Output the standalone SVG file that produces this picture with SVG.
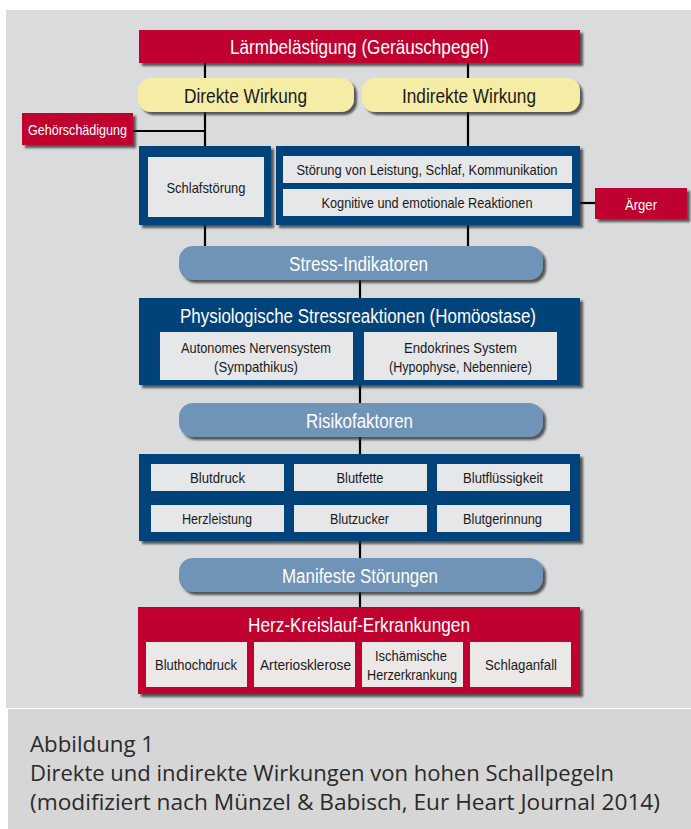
<svg xmlns="http://www.w3.org/2000/svg" width="691" height="829" viewBox="0 0 691 829">
<defs>
<filter id="sh" x="-10%" y="-20%" width="130%" height="160%">
<feDropShadow dx="3" dy="3" stdDeviation="1.3" flood-color="#2a2a2a" flood-opacity="0.75"/>
</filter>
<style>
.red{fill:#c0002e}
.navy{fill:#00437a}
.yel{fill:#f5eda6}
.steel{fill:#7093b8}
.inner{fill:#e6e7e9}
.inner2{fill:#ece8e8}
.ln{stroke:#000;stroke-width:2.2;fill:none}
text{font-family:"Liberation Sans",Arial,sans-serif;text-anchor:middle}
.w{fill:#fff}
.k{fill:#1a1a1a}
.big{font-size:20px}
.med{font-size:19.5px}
.sm{font-size:14.5px}
.cap{font-family:"Open Sans","Lato","Noto Sans",sans-serif;font-size:21px;fill:#2a2a2a;text-anchor:start}
</style>
</defs>
<rect x="0" y="0" width="691" height="829" fill="#ffffff"/>
<rect x="6" y="10" width="685" height="698" fill="#dadbdd"/>
<rect x="8" y="709" width="683" height="120" fill="#d6d6d6"/>

<g id="connectors">
<line class="ln" x1="205" y1="60" x2="205" y2="150"/>
<line class="ln" x1="468" y1="60" x2="468" y2="150"/>
<line class="ln" x1="130" y1="131" x2="205" y2="131"/>
<line class="ln" x1="578" y1="203" x2="600" y2="203"/>
<line class="ln" x1="205" y1="222" x2="205" y2="250"/>
<line class="ln" x1="468" y1="222" x2="468" y2="250"/>
<line class="ln" x1="360" y1="278" x2="360" y2="300"/>
<line class="ln" x1="360" y1="383" x2="360" y2="406"/>
<line class="ln" x1="360" y1="435" x2="360" y2="456"/>
<line class="ln" x1="360" y1="539" x2="360" y2="560"/>
<line class="ln" x1="360" y1="590" x2="360" y2="609"/>
</g>

<g id="laerm">
<rect class="red" x="139" y="30" width="441" height="33" filter="url(#sh)"/>
<text class="w big" x="359.5" y="53.5" textLength="259" lengthAdjust="spacingAndGlyphs">Lärmbelästigung (Geräuschpegel)</text>
</g>

<g id="direkt">
<rect class="yel" x="138" y="78" width="216" height="34" rx="13" filter="url(#sh)"/>
<text class="k med" x="245.5" y="102.5" textLength="123" lengthAdjust="spacingAndGlyphs">Direkte Wirkung</text>
</g>

<g id="indirekt">
<rect class="yel" x="362" y="78" width="218" height="34" rx="13" filter="url(#sh)"/>
<text class="k med" x="469" y="102.5" textLength="134" lengthAdjust="spacingAndGlyphs">Indirekte Wirkung</text>
</g>

<g id="gehoer">
<rect class="red" x="22" y="113" width="111" height="32" filter="url(#sh)"/>
<text class="w sm" x="77.5" y="134.5" textLength="99" lengthAdjust="spacingAndGlyphs">Gehörschädigung</text>
</g>

<g id="schlaf">
<rect class="navy" x="139" y="146" width="132" height="79" filter="url(#sh)"/>
<rect class="inner" x="148" y="157" width="116" height="60"/>
<text class="k sm" x="206" y="192.5" textLength="79" lengthAdjust="spacingAndGlyphs">Schlafstörung</text>
</g>

<g id="indirektbox">
<rect class="navy" x="276" y="146" width="304" height="79" filter="url(#sh)"/>
<rect class="inner" x="283" y="156" width="289" height="27"/>
<text class="k sm" x="427" y="175" textLength="261" lengthAdjust="spacingAndGlyphs">Störung von Leistung, Schlaf, Kommunikation</text>
<rect class="inner" x="283" y="189" width="289" height="27"/>
<text class="k sm" x="427" y="208" textLength="211" lengthAdjust="spacingAndGlyphs">Kognitive und emotionale Reaktionen</text>
</g>

<g id="aerger">
<rect class="red" x="595" y="188" width="92" height="31" filter="url(#sh)"/>
<text class="w sm" x="641" y="209.5" textLength="32" lengthAdjust="spacingAndGlyphs">Ärger</text>
</g>

<g id="stress">
<rect class="steel" x="179" y="246" width="364" height="34" rx="14" filter="url(#sh)"/>
<text class="w med" x="358.5" y="270.5" textLength="139" lengthAdjust="spacingAndGlyphs">Stress-Indikatoren</text>
</g>

<g id="physio">
<rect class="navy" x="139" y="298" width="441" height="87" filter="url(#sh)"/>
<text class="w med" x="358" y="323" textLength="356" lengthAdjust="spacingAndGlyphs">Physiologische Stressreaktionen (Homöostase)</text>
<rect class="inner" x="160" y="332" width="193" height="48"/>
<text class="k sm" x="256" y="352.5" textLength="150" lengthAdjust="spacingAndGlyphs">Autonomes Nervensystem</text>
<text class="k sm" x="256" y="371.5" textLength="84" lengthAdjust="spacingAndGlyphs">(Sympathikus)</text>
<rect class="inner" x="364" y="332" width="193" height="48"/>
<text class="k sm" x="460.5" y="352.5" textLength="113" lengthAdjust="spacingAndGlyphs">Endokrines System</text>
<text class="k sm" x="460.5" y="371.5" textLength="143" lengthAdjust="spacingAndGlyphs">(Hypophyse, Nebenniere)</text>
</g>

<g id="risiko">
<rect class="steel" x="179" y="403" width="364" height="34" rx="14" filter="url(#sh)"/>
<text class="w med" x="359.5" y="427.5" textLength="107" lengthAdjust="spacingAndGlyphs">Risikofaktoren</text>
</g>

<g id="faktoren">
<rect class="navy" x="139" y="454" width="441" height="87" filter="url(#sh)"/>
<rect class="inner" x="151" y="464" width="133" height="27"/>
<text class="k sm" x="217.5" y="483" textLength="55" lengthAdjust="spacingAndGlyphs">Blutdruck</text>
<rect class="inner" x="294" y="464" width="133" height="27"/>
<text class="k sm" x="360" y="483" textLength="47" lengthAdjust="spacingAndGlyphs">Blutfette</text>
<rect class="inner" x="437" y="464" width="133" height="27"/>
<text class="k sm" x="503" y="483" textLength="80" lengthAdjust="spacingAndGlyphs">Blutflüssigkeit</text>
<rect class="inner" x="151" y="505" width="133" height="27"/>
<text class="k sm" x="217" y="524" textLength="70" lengthAdjust="spacingAndGlyphs">Herzleistung</text>
<rect class="inner" x="294" y="505" width="133" height="27"/>
<text class="k sm" x="359.5" y="524" textLength="59" lengthAdjust="spacingAndGlyphs">Blutzucker</text>
<rect class="inner" x="437" y="505" width="133" height="27"/>
<text class="k sm" x="502.5" y="524" textLength="79" lengthAdjust="spacingAndGlyphs">Blutgerinnung</text>
</g>

<g id="manifest">
<rect class="steel" x="179" y="558" width="364" height="34" rx="14" filter="url(#sh)"/>
<text class="w med" x="360" y="582.5" textLength="156" lengthAdjust="spacingAndGlyphs">Manifeste Störungen</text>
</g>

<g id="herz">
<rect class="red" x="138" y="607" width="442" height="87" filter="url(#sh)"/>
<text class="w med" x="359" y="631.5" textLength="222" lengthAdjust="spacingAndGlyphs">Herz-Kreislauf-Erkrankungen</text>
<rect class="inner2" x="146" y="642" width="101" height="45"/>
<text class="k sm" x="196" y="669.5" textLength="82" lengthAdjust="spacingAndGlyphs">Bluthochdruck</text>
<rect class="inner2" x="254" y="642" width="101" height="45"/>
<text class="k sm" x="305.5" y="669.5" textLength="91" lengthAdjust="spacingAndGlyphs">Arteriosklerose</text>
<rect class="inner2" x="362" y="642" width="101" height="45"/>
<text class="k sm" x="411" y="660.5" textLength="72" lengthAdjust="spacingAndGlyphs">Ischämische</text>
<text class="k sm" x="412" y="679.5" textLength="90" lengthAdjust="spacingAndGlyphs">Herzerkrankung</text>
<rect class="inner2" x="470" y="642" width="101" height="45"/>
<text class="k sm" x="521" y="669.5" textLength="72" lengthAdjust="spacingAndGlyphs">Schlaganfall</text>
</g>

<g id="caption">
<text class="cap" x="30" y="752" textLength="124" lengthAdjust="spacingAndGlyphs">Abbildung 1</text>
<text class="cap" x="30" y="781" textLength="584" lengthAdjust="spacingAndGlyphs">Direkte und indirekte Wirkungen von hohen Schallpegeln</text>
<text class="cap" x="30" y="810" textLength="630" lengthAdjust="spacingAndGlyphs">(modifiziert nach Münzel &amp; Babisch, Eur Heart Journal 2014)</text>
</g>
</svg>
